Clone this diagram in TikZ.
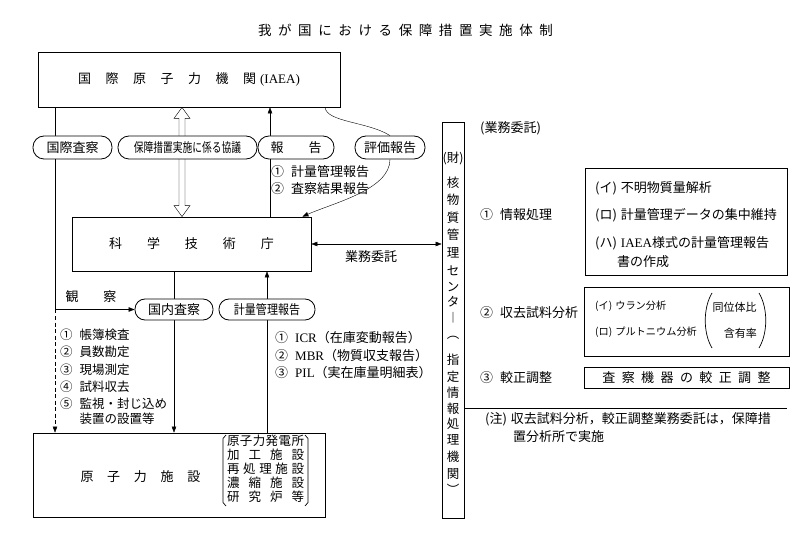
\documentclass[tikz,border=0pt]{standalone}
\usepackage{fontspec}
\usepackage{graphicx}
\setmainfont{Noto Sans CJK JP}
\newfontfamily\lat{Liberation Serif}
\usetikzlibrary{arrows.meta,calc}
\pgfdeclarelayer{bg}
\pgfsetlayers{bg,main}
\makeatletter
\newcommand\ltsp[2]{\def\ltsp@g{#1}\ltsp@a#2\relax}
\def\ltsp@a#1{\ifx\relax#1\else #1\expandafter\ltsp@b\fi}
\def\ltsp@b#1{\ifx\relax#1\else\hspace{\ltsp@g}#1\expandafter\ltsp@b\fi}
\makeatother
\newcommand\nsp{\hspace{7pt}}
\tikzset{
  box/.style={draw},
  pill/.style={draw,fill=white,rounded corners=11pt,minimum height=23pt},
  pills/.style={draw,fill=white,rounded corners=10pt,minimum height=21pt},
  arr/.style={-{Triangle[length=6pt,width=4.5pt]}},
  darr/.style={{Triangle[length=6pt,width=4.5pt]}-{Triangle[length=6pt,width=4.5pt]}},
  dsh/.style={dash pattern=on 4pt off 2.5pt},
  f125/.style={font=\fontsize{12.5}{14}\selectfont},
  f10/.style={font=\fontsize{10.2}{12}\selectfont},
  f11/.style={font=\fontsize{11}{13}\selectfont},
}
\begin{document}
\begin{tikzpicture}[x=1pt,y=-1pt,line width=0.8pt,inner sep=0pt,font=\fontsize{13}{16}\selectfont]
\useasboundingbox (0,0) rectangle (795,545);

% title
\node[font=\fontsize{13.5}{16}\selectfont] (title) at (405.5,30) {\ltsp{6.6pt}{我が国における保障措置実施体制}};

% main boxes
\node[box,minimum width=302pt,minimum height=55pt] (iaea) at (189,79.5)
  {\ltsp{14.5pt}{国際原子力機関}\hspace{4pt}{\lat(IAEA)}\hspace{12pt}};
\node[box,minimum width=239pt,minimum height=54pt] (sta) at (191.5,244)
  {\ltsp{25pt}{科学技術庁}\hspace{9pt}};
\node[box,minimum width=292pt,minimum height=84pt] (fac) at (179,475) {};
\node (facname) at (140.5,477) {\ltsp{13.75pt}{原子力施設}};
\node[f125,align=center] (faclist) at (265.5,469) {%
  \makebox[77pt][s]{\ltsp{0pt plus 1fil}{原子力発電所}}\\
  \makebox[77pt][s]{\ltsp{0pt plus 1fil}{加工施設}}\\
  \makebox[77pt][s]{\ltsp{0pt plus 1fil}{再処理施設}}\\
  \makebox[77pt][s]{\ltsp{0pt plus 1fil}{濃縮施設}}\\
  \makebox[77pt][s]{\ltsp{0pt plus 1fil}{研究炉等}}};
\draw[line width=0.7pt] (226,435) -- (223,438.5) -- (223,502.5) -- (226,506);
\draw[line width=0.7pt] (305,435) -- (308,438.5) -- (308,502.5) -- (305,506);

% centre column
\node[box,minimum width=22pt,minimum height=396pt] (ctr) at (453,320) {};
\node[f125] (zai) at (453,158) {(財)};
\foreach \c/\y [count=\i] in {核/183,物/200,質/218,管/235,理/253,セ/271,ン/287,タ/302,︱/318,︵/338,指/360,定/377,情/393,報/409,処/424,理/440,機/457,関/474,︶/489}
  \node[f125] (v\i) at (453,\y) {\c};

% pills
\node[pill,minimum width=79pt] (p1) at (72.5,147.5) {国際査察};
\node[pill,minimum width=139pt] (p2) at (187.5,147.5) {\scalebox{0.75}[1]{保障措置実施に係る協議}};
\node[pill,minimum width=76pt] (p3) at (296,147.5) {\ltsp{25pt}{報告}};
\node[pill,minimum width=70pt] (p4) at (390,147.5) {評価報告};
\node[pills,minimum width=78pt] (p5) at (174,309.5) {国内査察};
\node[pills,minimum width=96pt] (p6) at (267,309.5) {\scalebox{0.85}[1]{計量管理報告}};

% helper coordinates
\coordinate (xl) at (55,309.5);
\coordinate (xh) at (182,0);
\coordinate (xr) at (270,0);
\coordinate (xe) at (325,0);
\coordinate (se) at ($(sta.north east)+(-9,0)$);
\coordinate (nl) at (787,408);

\begin{pgfonlayer}{bg}
  \draw (iaea.south -| xl) -- (xl);
  \draw[arr] (xl) -- (p5.west);
  \draw[arr,dsh] (xl) -- (xl |- fac.north);
  % hollow double arrow
  \coordinate (ha) at (iaea.south -| xh);
  \coordinate (hb) at (sta.north -| xh);
  \draw[fill=white] (ha) -- ++(8,11) -- ++(-5,0) -- ($(hb)+(3,-11)$) -- ++(5,0) -- (hb)
     -- ++(-8,-11) -- ++(5,0) -- ($(ha)+(-3,11)$) -- ++(-5,0) -- cycle;
  \draw[arr] (sta.north -| xr) -- (iaea.south -| xr);
  \draw (iaea.south -| xe) .. controls ($(iaea.south -| xe)+(2,15)$) and ($(p4.north)+(-22,-14)$) .. (p4.north);
  \draw[arr] (p4.south) .. controls ($(p4.south)+(0,30)$) and ($(se)+(32,-14)$) .. (se);
  \draw[darr] (sta.east) -- (sta.east -| ctr.west);
  \draw (sta.south -| p5) -- (p5.north);
  \draw[arr] (p5.south) -- (p5.south |- fac.north);
  \draw (fac.north -| p6) -- (p6.south);
  \draw[arr] (p6.north) -- (p6.north |- sta.south);
  \draw (ctr.east |- nl) -- (nl);
\end{pgfonlayer}

\node (gyomu) at (371,257) {業務委託};
\node (kansatsu) at (91,297) {\ltsp{25pt}{観察}};

% report list
\node[anchor=west] (r1) at (271,172) {①\nsp 計量管理報告};
\node[anchor=west] (r2) at (271,189) {②\nsp 査察結果報告};

% inspection list
\foreach \t/\y [count=\i] in {{①\nsp 帳簿検査}/335,{②\nsp 員数勘定}/352,{③\nsp 現場測定}/369.5,{④\nsp 試料収去}/386.5,{⑤\nsp 監視・封じ込め}/403.5}
  \node[f125,anchor=west] (la\i) at (60,\y) {\t};
\node[f125,anchor=west] (la6) at (79.5,419) {装置の設置等};

% accounting reports list
\node[anchor=west] (m1) at (275,338) {①\nsp{\lat ICR}（在庫変動報告）};
\node[anchor=west] (m2) at (275,356) {②\nsp{\lat MBR}（物質収支報告）};
\node[anchor=west] (m3) at (275,373) {③\nsp{\lat PIL}（実在庫量明細表）};

% right column
\node[anchor=west] (gi) at (480,128) {(業務委託)};
\node[anchor=west] (c1) at (480,215) {①\nsp 情報処理};
\node[anchor=west] (c2) at (480,313) {②\nsp 収去試料分析};
\node[anchor=west] (c3) at (480,378) {③\nsp 較正調整};

\node[box,minimum width=202pt,minimum height=107pt] (b1) at (686,221.5) {};
\node[anchor=west] (b1a) at (595,188) {(イ)\hspace{4pt}不明物質量解析};
\node[anchor=west] (b1b) at (595,215) {(ロ)\hspace{4pt}計量管理データの集中維持};
\node[anchor=west] (b1c) at (595,243) {(ハ)\hspace{4pt}{\lat IAEA}様式の計量管理報告};
\node[anchor=west] (b1d) at (617,262) {書の作成};

\node[box,minimum width=205pt,minimum height=69pt] (b2) at (686.5,321.5) {};
\node[f10,anchor=west] (b2a) at (595,306) {(イ)\hspace{3pt}ウラン分析};
\node[f10,anchor=west] (b2b) at (595,332) {(ロ)\hspace{3pt}プルトニウム分析};
\node[f11] (b2c) at (734.5,307) {同位体比};
\node[f11,anchor=east] (b2d) at (757,333) {含有率};
\draw[line width=0.7pt] (712,293) .. controls (703,308) and (703,333) .. (712,348);
\draw[line width=0.7pt] (759,293) .. controls (768,308) and (768,333) .. (759,348);

\node[box,minimum width=205pt,minimum height=21pt] (b3) at (686.5,377.5) {\ltsp{6.4pt}{査察機器の較正調整}};

\node[anchor=west] (n1) at (485,419) {(注)\hspace{4pt}収去試料分析，較正調整業務委託は，保障措};
\node[anchor=west] (n2) at (513,437) {置分析所で実施};
\end{tikzpicture}
\end{document}
